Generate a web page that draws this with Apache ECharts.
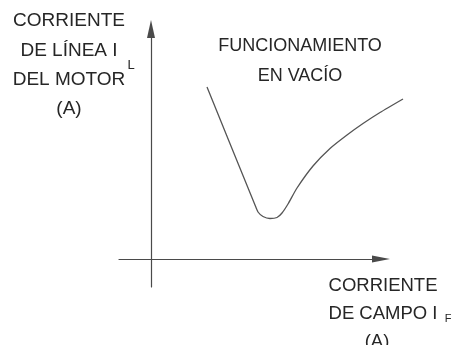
<!DOCTYPE html>
<html>
<head>
<meta charset="utf-8">
<script src="https://cdn.jsdelivr.net/npm/echarts@6/dist/echarts.min.js"></script>
<style>
  html, body { margin: 0; padding: 0; background: #fff; }
  #chart { width: 456px; height: 345px; }
</style>
</head>
<body>
<div id="chart"></div>
<script>
// field current (x) vs motor line current (y), no-load V curve; units are arbitrary
const fieldCurrent = [56, 104, 107, 112, 119, 126, 131, 137, 146, 162, 179, 196, 212, 229, 252]
const lineCurrent = [172, 54, 47, 42.5, 40.5, 41.5, 46, 55, 71, 93, 110.5, 124, 135.5, 146.5, 160]

const yTitleLines = ['CORRIENTE', 'DE LÍNEA I', 'DEL MOTOR', '(A)']
const xTitleLines = ['CORRIENTE', 'DE CAMPO I', '(A)']
const curveLabel = ['FUNCIONAMIENTO', 'EN VACÍO']

const textColor = '#262626'
const family = '"Liberation Sans", Arial, sans-serif'

function textLine(str, x, y, size) {
  return {
    type: 'text',
    x: x,
    y: y,
    style: { text: str, font: size + 'px ' + family, fill: textColor, textAlign: 'center', textVerticalAlign: 'middle' },
  }
}

const graphics = []
yTitleLines.forEach((s, i) => graphics.push(textLine(s, 69, 21 + i * 29.3, 19)))
graphics.push(textLine('L', 131, 65, 13))
curveLabel.forEach((s, i) => graphics.push(textLine(s, 300, 46 + i * 29.6, 18)))
xTitleLines.forEach((s, i) => graphics.push(textLine(s, i === 2 ? 377 : 383, 285.5 + i * 28.3, 18.5)))
graphics.push(textLine('F', 448, 318.5, 11))

const hiddenAxis = {
  axisLine: { show: false },
  axisTick: { show: false },
  axisLabel: { show: false },
  splitLine: { show: false },
}

const chart = echarts.init(document.getElementById('chart'))
chart.setOption({
  animation: false,
  grid: [
    { left: 119, top: 29, width: 262, height: 258 },
    // wider twin grid so the curve can run past the axis arrow
    { left: 119, top: 29, width: 300, height: 258 },
  ],
  xAxis: [
    {
      type: 'value',
      gridIndex: 0,
      min: -32,
      max: 230,
      axisLine: {
        onZero: true,
        symbol: ['none', 'triangle'],
        symbolSize: [7, 18],
        lineStyle: { color: '#4a4a4a', width: 1.2 },
      },
      axisTick: { show: false },
      axisLabel: { show: false },
      splitLine: { show: false },
    },
    Object.assign({ type: 'value', gridIndex: 1, min: -32, max: 268 }, hiddenAxis),
  ],
  yAxis: [
    {
      type: 'value',
      gridIndex: 0,
      min: -28,
      max: 230,
      axisLine: {
        onZero: true,
        symbol: ['none', 'triangle'],
        symbolSize: [8, 18],
        lineStyle: { color: '#4a4a4a', width: 1.2 },
      },
      axisTick: { show: false },
      axisLabel: { show: false },
      splitLine: { show: false },
    },
    Object.assign({ type: 'value', gridIndex: 1, min: -28, max: 230 }, hiddenAxis),
  ],
  series: [
    {
      type: 'line',
      xAxisIndex: 1,
      yAxisIndex: 1,
      data: fieldCurrent.map((v, i) => [v, lineCurrent[i]]),
      smooth: 0.2,
      symbol: 'none',
      lineStyle: { color: '#555', width: 1.3 },
    },
  ],
  graphic: graphics,
})
</script>
</body>
</html>
